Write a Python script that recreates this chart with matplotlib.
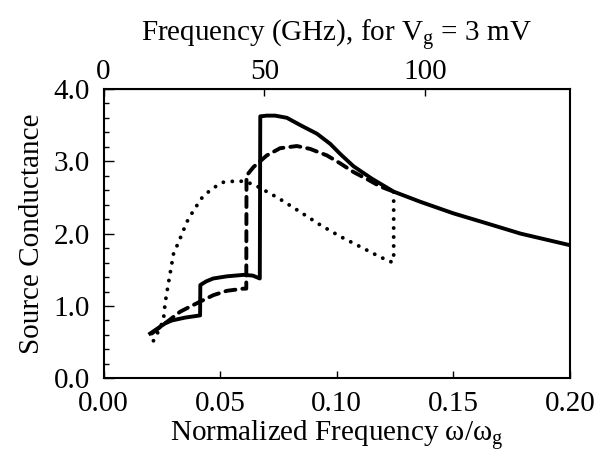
import matplotlib
matplotlib.use("Agg")
import matplotlib.pyplot as plt
from matplotlib.ticker import MultipleLocator, FormatStrFormatter

plt.rcParams['font.family'] = ['Liberation Serif', 'DejaVu Serif']
plt.rcParams['mathtext.fontset'] = 'custom'
plt.rcParams['mathtext.rm'] = 'Liberation Serif'
plt.rcParams['mathtext.it'] = 'Liberation Serif:italic'

# ---- data ----
solid_x = [0.020, 0.0264, 0.0293, 0.0350, 0.0414, 0.0415, 0.0440, 0.0470, 0.0529,
           0.0600, 0.0640, 0.0670, 0.0672, 0.0700, 0.0736, 0.0786, 0.0843, 0.0915,
           0.0972, 0.1015, 0.1072, 0.1150, 0.1244, 0.1358, 0.1500, 0.1645, 0.1788, 0.2000]
solid_y = [0.62, 0.76, 0.80, 0.84, 0.87, 1.29, 1.34, 1.38, 1.41,
           1.43, 1.42, 1.38, 3.62, 3.63, 3.63, 3.60, 3.50, 3.38,
           3.24, 3.10, 2.93, 2.76, 2.58, 2.44, 2.28, 2.14, 2.00, 1.84]

dashed_x = [0.0207, 0.0235, 0.0280, 0.0328, 0.0370, 0.0414, 0.0471, 0.0529, 0.0600,
            0.0612, 0.0613, 0.0643, 0.0700, 0.0757, 0.0829, 0.0886, 0.0958, 0.1015,
            0.1072, 0.1137, 0.1187, 0.1244]
dashed_y = [0.62, 0.69, 0.80, 0.92, 0.99, 1.06, 1.15, 1.21, 1.24,
            1.24, 2.80, 2.92, 3.08, 3.18, 3.21, 3.17, 3.08, 2.97,
            2.85, 2.74, 2.65, 2.58]

dotted_x = [0.0214, 0.0240, 0.0257, 0.0264, 0.0278, 0.0300, 0.0328, 0.0357, 0.0386,
            0.0421, 0.0464, 0.0514, 0.0579, 0.0615, 0.0650, 0.0700, 0.0750, 0.0843,
            0.0929, 0.1015, 0.1100, 0.1172, 0.1230, 0.1244, 0.1244]
dotted_y = [0.52, 0.68, 0.81, 1.04, 1.31, 1.72, 1.93, 2.16, 2.32,
            2.49, 2.62, 2.71, 2.73, 2.71, 2.67, 2.58, 2.49, 2.30,
            2.12, 1.96, 1.82, 1.70, 1.61, 1.62, 2.58]

ghz_per_unit = 725.0  # omega_g for Vg = 3 mV
top_ticks = [0, 50, 100]

FS = 21

fig = plt.figure(figsize=(5.95, 4.51), dpi=100)
ax = fig.add_axes([0.174, 0.161, 0.784, 0.642])

ax.plot(solid_x, solid_y, color='black', lw=2.8, solid_joinstyle='round')
ax.plot(dashed_x, dashed_y, color='black', lw=2.8, dashes=(2.6, 1.8),
        dash_capstyle='round')
ax.plot(dotted_x, dotted_y, color='black', lw=2.8, linestyle=(0, (0.01, 2.3)),
        dash_capstyle='round')

ax.set_xlim(0, 0.20)
ax.set_ylim(0, 4.0)
ax.xaxis.set_major_locator(MultipleLocator(0.05))
ax.xaxis.set_major_formatter(FormatStrFormatter('%.2f'))
ax.yaxis.set_major_locator(MultipleLocator(1.0))
ax.yaxis.set_minor_locator(MultipleLocator(0.2))
ax.yaxis.set_major_formatter(FormatStrFormatter('%.1f'))

ax.tick_params(axis='both', which='both', direction='in', labelsize=FS,
               width=1.0)
ax.tick_params(axis='x', which='major', length=5, pad=9)
ax.tick_params(axis='y', which='major', length=7, pad=10)
ax.tick_params(axis='y', which='minor', length=3.5)
for s in ax.spines.values():
    s.set_linewidth(1.5)

ax.set_xlabel(r'Normalized Frequency ω/ω$_\mathrm{g}$', fontsize=FS, labelpad=1)
ax.set_ylabel('Source Conductance', fontsize=FS, labelpad=6)

sec = ax.secondary_xaxis('top', functions=(lambda x: x * ghz_per_unit,
                                           lambda f: f / ghz_per_unit))
sec.set_xticks(top_ticks)
sec.tick_params(direction='in', length=5, labelsize=FS, pad=3, width=1.0)
sec.set_xlabel(r'Frequency (GHz), for V$_\mathrm{g}$ = 3 mV', fontsize=FS,
               labelpad=12)

fig.savefig('out.png', dpi=100)
